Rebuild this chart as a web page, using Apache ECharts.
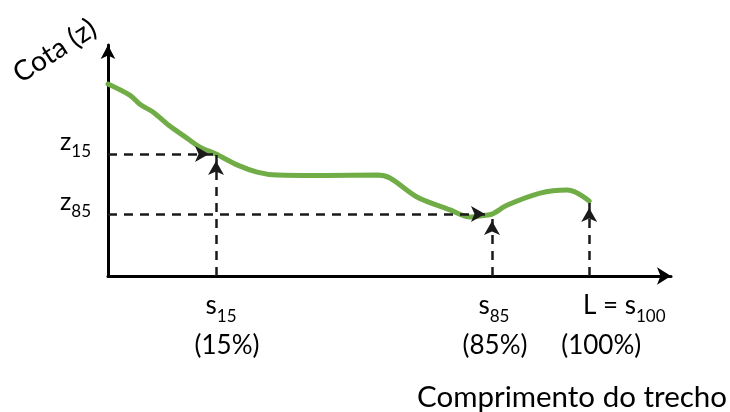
<!DOCTYPE html>
<html>
<head>
<meta charset="utf-8">
<script src="https://cdn.jsdelivr.net/npm/echarts@6/dist/echarts.min.js"></script>
<style>
  html, body { margin: 0; padding: 0; background: #ffffff; }
  #chart { width: 730px; height: 412px; }
</style>
</head>
<body>
<div id="chart"></div>
<script>
// Longitudinal profile of a channel reach: distance along the reach (s) vs bed elevation (z)
const profileS = [0, 4.6, 6.7, 9.4, 12.9, 16.4, 19.1, 22.45, 26.8, 31.0, 35.1, 45.0, 55.9, 58.6, 64.2, 71.1, 75.3, 78.0, 79.8, 83.0, 89.8, 95.4, 97.5, 100];
const profileZ = [83.1, 78.2, 74.2, 70.9, 64.8, 59.7, 55.8, 52.8, 48.1, 45.0, 43.7, 43.5, 43.7, 42.4, 34.2, 28.6, 25.5, 26.2, 26.8, 30.7, 35.9, 37.2, 35.9, 32.5];

// Reference stations (15 %, 85 % and 100 % of the reach) and their elevations
const markS = [22.45, 79.8, 100];
const markZ = [52.8, 26.8, 32.5];

// Tick labels
const xTickMain = ['s', 's', 'L = s'];
const xTickSub = ['15', '85', '100'];
const xTickPct = ['(15%)', '(85%)', '(100%)'];
const yTickMain = ['z', 'z'];
const yTickSub = ['15', '85'];

const FONT = 'Lato';
const INK = '#000000';
const S_MAX = 117;

// horizontal nudges (px) for each x label line
const line1Shift = [5, 2, 35];
const line2Shift = [11, 3, 12];

const xRich = {};
markS.forEach((_, i) => {
  xRich['m' + i] = { fontFamily: FONT, fontSize: 26, color: INK, lineHeight: 28, verticalAlign: 'top',
                     padding: [0, 0, 0, 2 * line1Shift[i]] };
  xRich['p' + i] = { fontFamily: FONT, fontSize: 26, color: INK, lineHeight: 50,
                     padding: [0, 0, 0, 2 * line2Shift[i]] };
});
xRich.s = { fontFamily: FONT, fontSize: 17, color: INK, lineHeight: 17, verticalAlign: 'top', padding: [15, 0, 0, 0] };

const yRich = {
  m: { fontFamily: FONT, fontSize: 25, color: INK, lineHeight: 28, verticalAlign: 'top' },
  s: { fontFamily: FONT, fontSize: 17, color: INK, lineHeight: 17, verticalAlign: 'top', padding: [14, 0, 0, 0] }
};

const curve = profileS.map((s, i) => [s, profileZ[i]]);

// dashed guide arrows: from the z axis to the profile, and from the s axis up to the profile
const guides = [];
markS.forEach((s, i) => {
  if (i < yTickSub.length) {
    guides.push([{ coord: [0, markZ[i]] }, { coord: [s, markZ[i]] }]);
  }
  guides.push([{ coord: [s, 0] }, { coord: [s, markZ[i]] }]);
});

const xLabelFormatter = (v) => {
  const i = markS.indexOf(v);
  if (i < 0) return '';
  return '{m' + i + '|' + xTickMain[i] + '}{s|' + xTickSub[i] + '}\n{p' + i + '|' + xTickPct[i] + '}';
};

// the labels of the last station sit on a companion axis so they never compete for space
const baseX = {
  type: 'value',
  min: 0,
  max: S_MAX,
  position: 'bottom',
  axisTick: { show: false },
  splitLine: { show: false }
};

const chart = echarts.init(document.getElementById('chart'), null, { renderer: 'canvas' });
chart.setOption({
  animation: false,
  backgroundColor: '#ffffff',
  grid: { left: 108, right: 59, top: 45, bottom: 136, containLabel: false },
  xAxis: [
    Object.assign({}, baseX, {
      name: 'Comprimento do trecho',
      nameLocation: 'end',
      nameGap: 56,
      nameMoveOverlap: false,
      nameTextStyle: { fontFamily: FONT, fontSize: 29.5, color: INK, align: 'right', verticalAlign: 'top', padding: [106, 0, 0, 0] },
      axisLine: { show: true, onZero: false, symbol: ['none', 'arrow'], symbolSize: [13, 14],
                  lineStyle: { color: INK, width: 3 } },
      axisLabel: {
        customValues: markS.slice(0, 2),
        margin: 17,
        hideOverlap: false,
        showMinLabel: true,
        showMaxLabel: true,
        formatter: xLabelFormatter,
        rich: xRich
      }
    }),
    Object.assign({}, baseX, {
      axisLine: { show: false, onZero: false },
      axisLabel: {
        customValues: markS.slice(2),
        margin: 17,
        showMinLabel: true,
        showMaxLabel: true,
        formatter: xLabelFormatter,
        rich: xRich
      }
    })
  ],
  yAxis: {
    type: 'value',
    min: 0,
    max: 100,
    name: 'Cota (z)',
    nameLocation: 'end',
    nameGap: 12,
    nameRotate: 33,
    nameMoveOverlap: false,
    nameTextStyle: { fontFamily: FONT, fontSize: 28, color: INK, align: 'right', verticalAlign: 'bottom', padding: [0, 8, 0, 0] },
    axisLine: { show: true, onZero: false, symbol: ['none', 'arrow'], symbolSize: [11, 14],
                lineStyle: { color: INK, width: 3 } },
    axisTick: { show: false },
    splitLine: { show: false },
    axisLabel: {
      customValues: markZ.slice(0, yTickSub.length),
      margin: 17,
      hideOverlap: false,
      showMinLabel: true,
      showMaxLabel: true,
      padding: [0, 0, 22, 0],
      formatter: (v) => {
        const i = markZ.indexOf(v);
        if (i < 0) return '';
        return '{m|' + yTickMain[i] + '}{s|' + yTickSub[i] + '}';
      },
      rich: yRich
    }
  },
  series: [
    {
      name: 'Perfil',
      type: 'line',
      xAxisIndex: 0,
      data: curve,
      smooth: 0.3,
      symbol: 'none',
      lineStyle: { color: '#70AD47', width: 5, cap: 'round' },
      z: 2
    },
    {
      name: 'Guias',
      type: 'line',
      xAxisIndex: 0,
      data: [],
      z: 5,
      markLine: {
        silent: true,
        symbol: ['none', 'arrow'],
        symbolSize: [12, 14],
        symbolOffset: [0, [0, '50%']],
        label: { show: false },
        emphasis: { disabled: true },
        lineStyle: { color: '#1a1a1a', width: 2.5, type: [9, 7] },
        data: guides
      }
    }
  ]
});
</script>
</body>
</html>
